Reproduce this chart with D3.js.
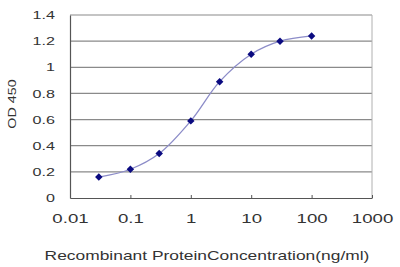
<!DOCTYPE html>
<html>
<head>
<meta charset="utf-8">
<script src="https://cdn.jsdelivr.net/npm/d3@7"></script>
<style>
  body { margin: 0; background: #fff; }
  text { font-family: "Liberation Sans", Arial, sans-serif; fill: #333; }
</style>
</head>
<body>
<div id="chart"></div>
<script>
const concentrations = [0.03, 0.1, 0.3, 1, 3, 10, 30, 100];
const odValues       = [0.16, 0.22, 0.34, 0.59, 0.89, 1.10, 1.20, 1.24];
const xTicks = [0.01, 0.1, 1, 10, 100, 1000];
const yTicks = [0, 0.2, 0.4, 0.6, 0.8, 1, 1.2, 1.4];

const WIDTH  = 400;
const HEIGHT = 267;
const MARGIN = { top: 15, right: 28, bottom: 69, left: 70 };
const STRETCH = 1.45; // reference text is stretched horizontally

const svg = d3.select("#chart").append("svg")
  .attr("width", WIDTH)
  .attr("height", HEIGHT);

const x = d3.scaleLog()
  .domain([0.01, 1000])
  .range([MARGIN.left, WIDTH - MARGIN.right]);

const y = d3.scaleLinear()
  .domain([0, 1.4])
  .range([HEIGHT - MARGIN.bottom, MARGIN.top]);

// Grid lines
svg.selectAll(".grid")
  .data(yTicks.filter(d => d > 0))
  .enter().append("line")
  .attr("x1", MARGIN.left).attr("x2", WIDTH - MARGIN.right)
  .attr("y1", d => y(d)).attr("y2", d => y(d))
  .attr("stroke", "#8a8a8a")
  .attr("stroke-width", 1.2);

// Right border
svg.append("line")
  .attr("x1", WIDTH - MARGIN.right).attr("x2", WIDTH - MARGIN.right)
  .attr("y1", MARGIN.top).attr("y2", HEIGHT - MARGIN.bottom)
  .attr("stroke", "#b0b0b0");

// Axes
const fmt = d => d3.format("~g")(d);
const yAxis = svg.append("g")
  .attr("transform", `translate(${MARGIN.left},0)`)
  .call(d3.axisLeft(y).tickValues(yTicks).tickSize(0).tickPadding(15).tickFormat(fmt));
yAxis.select(".domain").attr("stroke", "#555").attr("stroke-width", 1.2);
yAxis.selectAll(".tick text")
  .attr("font-size", 11.5)
  .attr("x", -15 / 1.4)
  .attr("transform", "scale(1.4,1)");

const xAxis = svg.append("g")
  .attr("transform", `translate(0,${HEIGHT - MARGIN.bottom})`)
  .call(d3.axisBottom(x).tickValues(xTicks).tickSizeInner(-3).tickSizeOuter(0).tickPadding(16).tickFormat(fmt));
xAxis.select(".domain").attr("stroke", "#555").attr("stroke-width", 1.2);
xAxis.selectAll(".tick line").attr("stroke", "#555");
xAxis.selectAll(".tick text")
  .attr("font-size", 12.5)
  .attr("transform", `scale(${STRETCH * 1.03},1)`);

svg.selectAll(".tick text")
  .attr("fill", "#444")
  .style("font-family", "'Liberation Sans', Arial, sans-serif");

// Axis titles
svg.append("text")
  .attr("transform", `translate(16,104) rotate(-90) scale(1.3,1)`)
  .attr("text-anchor", "middle")
  .attr("font-size", 11)
  .text("OD 450");

svg.append("text")
  .attr("transform", `translate(207,260) scale(${STRETCH},1)`)
  .attr("text-anchor", "middle")
  .attr("font-size", 12)
  .text("Recombinant ProteinConcentration(ng/ml)");

// Curve
const line = d3.line()
  .x((d, i) => x(concentrations[i]))
  .y(d => y(d))
  .curve(d3.curveCatmullRom);

svg.append("path")
  .datum(odValues)
  .attr("d", line)
  .attr("fill", "none")
  .attr("stroke", "#8c8cc8")
  .attr("stroke-width", 1.3);

// Diamond markers
svg.selectAll(".pt")
  .data(odValues)
  .enter().append("path")
  .attr("d", d3.symbol(d3.symbolSquare, 28))
  .attr("transform", (d, i) => `translate(${x(concentrations[i])},${y(d)}) rotate(45)`)
  .attr("fill", "#0a0a80");
</script>
</body>
</html>
